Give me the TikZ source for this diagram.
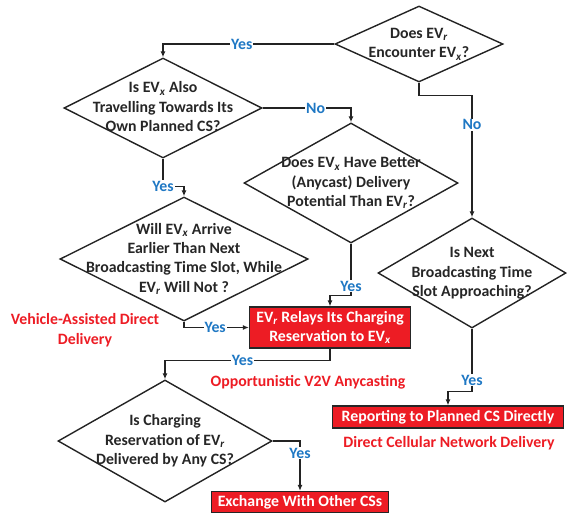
\documentclass[tikz,border=0pt]{standalone}
\usepackage{fontspec}
\setmainfont{Carlito}
\usetikzlibrary{shapes.geometric,arrows.meta,calc}
\definecolor{myred}{RGB}{237,28,36}
\definecolor{myblue}{RGB}{31,120,196}
\definecolor{myline}{RGB}{35,35,35}
\newcommand{\evsub}[1]{\textsubscript{\textit{#1}}}
\newcommand{\dtext}[1]{\smash{\makebox[0pt]{\raisebox{-4pt}{\begin{tabular}{@{}c@{}}#1\end{tabular}}}}}
\begin{document}
\begin{tikzpicture}[x=1pt,y=-1pt,
  font=\fontsize{15.8}{19.4}\selectfont\bfseries,
  dec/.style={shape=diamond, draw=myline, line width=1.4pt, inner sep=0pt, text=black!85},
  rbox/.style={draw=black!85, line width=1.2pt, fill=myred, text=white, inner sep=0pt, align=center},
  arr/.style={draw=myline, line width=1.4pt, -{Latex[length=6pt,width=5pt]}},
  lbl/.style={fill=white, text=myblue, inner sep=1pt},
  note/.style={text=myred, align=center}]
\useasboundingbox (0,0) rectangle (567,512);

\node[dec, minimum width=168pt, minimum height=76pt] (d1) at (419,44)
  {\dtext{Does EV\evsub{r}\\Encounter EV\evsub{x}?}};
\node[dec, minimum width=198pt, minimum height=100pt] (d2) at (163,108)
  {\dtext{Is EV\evsub{x} Also\\Travelling Towards Its\\Own Planned CS?}};
\node[dec, minimum width=214pt, minimum height=120pt] (d3) at (351,183)
  {\dtext{Does EV\evsub{x} Have Better\\(Anycast) Delivery\\Potential Than EV\evsub{r}?}};
\node[dec, minimum width=188pt, minimum height=110pt] (d4) at (472,273)
  {\dtext{Is Next\\Broadcasting Time\\Slot Approaching?}};
\node[dec, minimum width=248pt, minimum height=124pt] (d5) at (184,259)
  {\dtext{Will EV\evsub{x} Arrive\\Earlier Than Next\\Broadcasting Time Slot, While\\EV\evsub{r} Will Not ?}};
\node[dec, minimum width=214pt, minimum height=122pt] (d6) at (165,441)
  {\dtext{Is Charging\\Reservation of EV\evsub{r}\\Delivered by Any CS?}};

\node[rbox, minimum width=161pt, minimum height=41pt] (r1) at (330,327.5)
  {EV\evsub{r} Relays Its Charging\\Reservation to EV\evsub{x}};
\node[rbox, minimum width=231pt, minimum height=22pt] (rep) at (448,417)
  {Reporting to Planned CS Directly};
\node[rbox, minimum width=177pt, minimum height=21pt] (ex) at (300,502)
  {Exchange With Other CSs};

\node[note] (n1) at (85,330) {Vehicle-Assisted Direct\\Delivery};
\node[note] (n2) at (308,382) {Opportunistic V2V Anycasting};
\node[note] (n3) at (449,443) {Direct Cellular Network Delivery};

\draw[arr] (d1.west) -| node[lbl, pos=0.27]{Yes} (d2.north);
\draw[arr] (d2.east) -| node[lbl, pos=0.3]{No} (d3.north);
\coordinate (c1) at ($(d1.south)+(0,13)$);
\draw[arr] (d1.south) -- (c1) -| node[lbl, pos=0.62]{No} (d4.north);
\draw[arr] (d2.south) |- node[lbl, pos=0.5]{Yes} ($(d5.north)+(0,-10)$) -- (d5.north);
\draw[arr] (d5.south) |- node[lbl, pos=0.74]{Yes} (r1.west);
\draw[arr] (d3.south) |- node[lbl, pos=0.41]{Yes} ($(r1.north)+(0,-11)$) -- (r1.north);
\coordinate (c2) at ($(r1.south)+(0,12)$);
\draw[arr] (r1.south) -- (c2) -| node[lbl, pos=0.265]{Yes} (d6.north);
\draw[arr] (d6.east) -| node[lbl, pos=0.62]{Yes} (ex.north);
\draw[arr] (d4.south) |- node[lbl, pos=0.41]{Yes} ($(rep.north)+(0,-14)$) -- (rep.north);
\end{tikzpicture}
\end{document}
